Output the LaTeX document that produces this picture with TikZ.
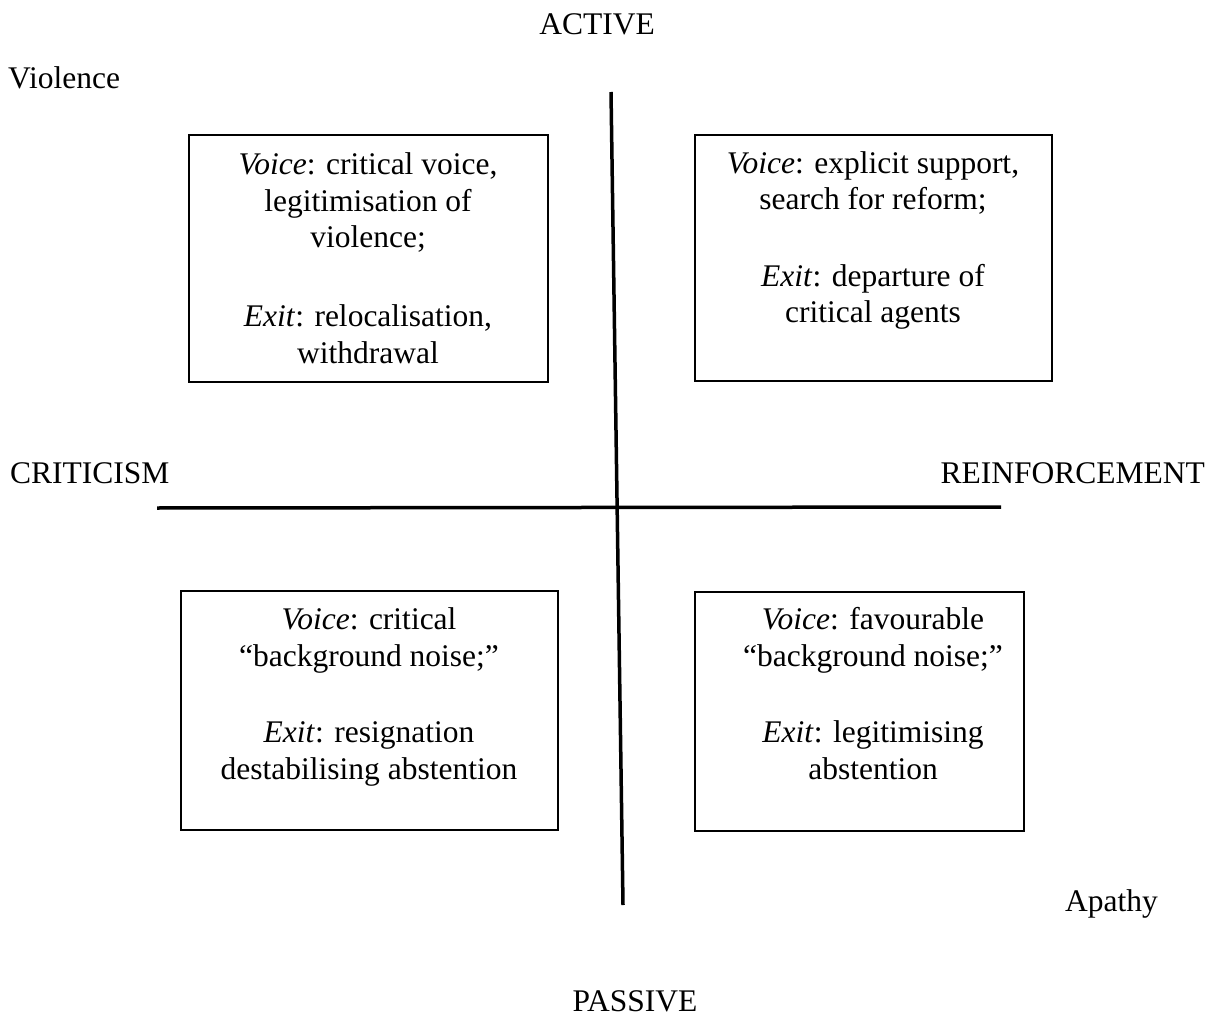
\documentclass[tikz,border=0pt]{standalone}
\usepackage{fontspec}
\setmainfont{Liberation Serif}
\begin{document}
\begin{tikzpicture}[x=1pt,y=-1pt,
  lbl/.style={font=\fontsize{31.5}{36.5}\selectfont, inner sep=0pt},
  boxtext/.style={lbl, align=center, anchor=base},
  quad/.style={draw, line width=1.3pt, inner sep=0pt},
  axisline/.style={line width=3.5pt}]
\useasboundingbox (0,0) rectangle (1215,1016);

% axes
\coordinate (vtop) at (611,92);
\coordinate (vbot) at (623,905);
\coordinate (hleft) at (157,508);
\coordinate (hright) at (1001,507);
\draw[axisline] (vtop) -- (vbot);
\draw[axisline] (hleft) -- (hright);

% boxes
\node[quad, minimum width=359pt, minimum height=247pt] (tl) at (368.5,258.5) {};
\node[quad, minimum width=357pt, minimum height=246pt] (tr) at (873.5,258) {};
\node[quad, minimum width=377pt, minimum height=239pt] (bl) at (369.5,710.5) {};
\node[quad, minimum width=329pt, minimum height=239pt] (br) at (859.5,711.5) {};

% box texts (anchor base = baseline of the last line)
\node[boxtext] (tltext) at (368,363) {\textit{Voice}: critical voice,\\ legitimisation of\\ violence;\\[42.5pt] \textit{Exit}: relocalisation,\\ withdrawal};
\node[boxtext] (trtext) at (873,323) {\textit{Voice}: explicit support,\\ search for reform;\\[40pt] \textit{Exit}: departure of\\ critical agents};
\node[boxtext] (bltext) at (369,779) {\textit{Voice}: critical\\ “background noise;”\\[40pt] \textit{Exit}: resignation\\ destabilising abstention};
\node[boxtext] (brtext) at (873,779) {\textit{Voice}: favourable\\ “background noise;”\\[40pt] \textit{Exit}: legitimising\\ abstention};

% axis labels
\node[lbl, anchor=base] (active) at (597,35) {ACTIVE};
\node[lbl, anchor=base] (passive) at (635,1011) {PASSIVE};
\node[lbl, anchor=base west] (criticism) at (10,483) {CRITICISM};
\node[lbl, anchor=base east] (reinf) at (1205,483) {REINFORCEMENT};
\node[lbl, anchor=base west] (violence) at (8,89) {Violence};
\node[lbl, anchor=base west] (apathy) at (1065,911) {Apathy};
\end{tikzpicture}
\end{document}
